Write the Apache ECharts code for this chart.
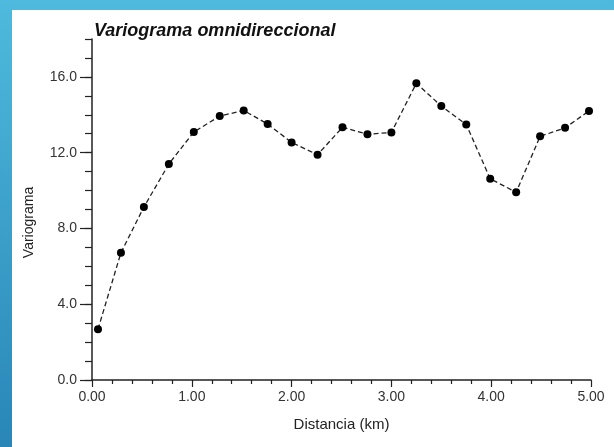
<!DOCTYPE html>
<html>
<head>
<meta charset="utf-8">
<script src="https://cdn.jsdelivr.net/npm/echarts@6/dist/echarts.min.js"></script>
<style>
html,body{margin:0;padding:0;}
#chart{width:614px;height:447px;}
</style>
</head>
<body>
<div id="chart"></div>
<script>
// Data
const distances = [0.06, 0.29, 0.52, 0.77, 1.02, 1.28, 1.52, 1.76, 2.00, 2.26, 2.51, 2.76, 3.00, 3.25, 3.50, 3.75, 3.99, 4.25, 4.49, 4.74, 4.98];
const variogram = [2.68, 6.72, 9.13, 11.40, 13.09, 13.93, 14.23, 13.51, 12.54, 11.89, 13.34, 12.97, 13.07, 15.66, 14.46, 13.49, 10.62, 9.91, 12.86, 13.31, 14.20];
const yMajorTicks = [0, 4, 8, 12, 16];
const titleText = 'Variograma omnidireccional';
const xName = 'Distancia (km)';
const yName = 'Variograma';

const chart = echarts.init(document.getElementById('chart'), null, {renderer: 'canvas'});
const font = "'Liberation Sans', Arial, Helvetica, sans-serif";
const axisColor = '#222';
const labelColor = '#333';

chart.setOption({
  animation: false,
  backgroundColor: new echarts.graphic.LinearGradient(0, 0, 0, 1, [
    {offset: 0, color: '#4fbadd'},
    {offset: 1, color: '#2986b7'}
  ]),
  graphic: [{
    type: 'rect', z: -10, silent: true,
    shape: {x: 12, y: 10, width: 602, height: 437},
    style: {fill: '#ffffff'}
  }],
  title: {
    text: titleText, left: 94, top: 22, padding: 0,
    textStyle: {fontFamily: font, fontSize: 18, fontWeight: 'bold', fontStyle: 'italic', color: '#111'}
  },
  grid: {left: 92, right: 23, top: 39, bottom: 67, containLabel: false},
  xAxis: {
    type: 'value', min: 0, max: 5, interval: 1,
    name: xName, nameLocation: 'middle', nameGap: 37,
    nameTextStyle: {fontFamily: font, fontSize: 15, color: '#222'},
    axisLine: {show: true, onZero: false, lineStyle: {color: axisColor, width: 1.5}},
    axisTick: {show: true, length: 7, lineStyle: {color: axisColor, width: 1.2}},
    minorTick: {show: true, splitNumber: 5, length: 4, lineStyle: {color: axisColor, width: 1.2}},
    splitLine: {show: false},
    axisLabel: {fontFamily: font, fontSize: 14, color: labelColor, margin: 10,
      formatter: v => v.toFixed(2)}
  },
  yAxis: [{
    type: 'value', min: 0, max: 18, interval: 1, position: 'left', offset: 0,
    axisLine: {show: true, onZero: false, lineStyle: {color: axisColor, width: 1.5}},
    axisTick: {show: true, length: 7, lineStyle: {color: axisColor, width: 1.2}},
    axisLabel: {show: false},
    splitLine: {show: false}
  }, {
    type: 'value', min: 0, max: 18, interval: 1, position: 'left', offset: 0,
    name: yName, nameLocation: 'middle', nameGap: 56, nameRotate: 90,
    nameTextStyle: {fontFamily: font, fontSize: 14, color: '#222', padding: [0, 26, 0, 0]},
    axisLine: {show: false},
    axisTick: {show: true, length: 12, customValues: yMajorTicks, lineStyle: {color: axisColor, width: 1.2}},
    axisLabel: {fontFamily: font, fontSize: 14, color: labelColor, margin: 15,
      customValues: yMajorTicks, padding: [0, 0, 8, 0],
      formatter: v => v.toFixed(1)},
    splitLine: {show: false}
  }],
  series: [{
    type: 'line',
    yAxisIndex: 0,
    data: distances.map((d, i) => [d, variogram[i]]),
    symbol: 'circle', symbolSize: 8,
    itemStyle: {color: '#000'},
    lineStyle: {color: '#222', width: 1.3, type: [5, 3]}
  }]
});
</script>
</body>
</html>
